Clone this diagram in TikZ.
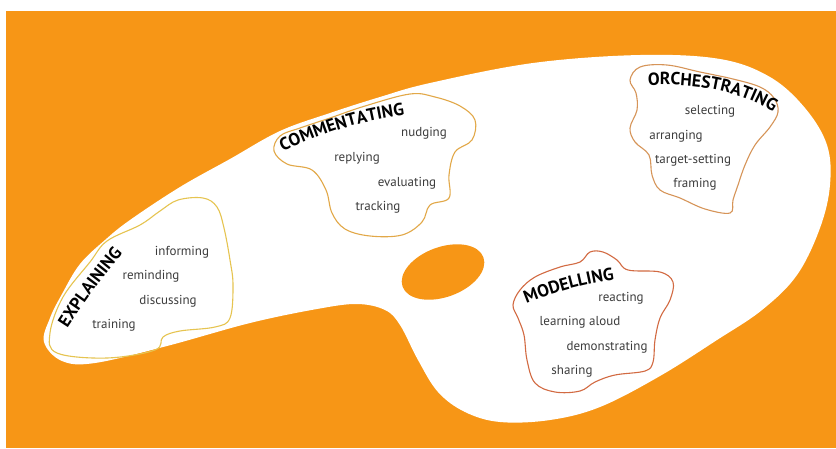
\documentclass[tikz,border=0pt]{standalone}
\usepackage{fontspec}
\setsansfont{PT Sans}
\usetikzlibrary{decorations.text}
\definecolor{paint}{RGB}{247,150,22}
\definecolor{explainline}{RGB}{230,196,80}
\definecolor{commentline}{RGB}{226,168,72}
\definecolor{orchline}{RGB}{214,148,88}
\definecolor{modelline}{RGB}{210,106,66}
\definecolor{wordgrey}{RGB}{60,60,60}
\newcommand{\headfont}{\sffamily\bfseries\fontsize{17.5}{17.5}\selectfont}
\begin{document}
\begin{tikzpicture}[
        x = 1pt,
        y = -1pt,
        word/.style = {font=\sffamily\fontsize{13}{13}\selectfont, text=wordgrey, inner sep=0pt},
        blob/.style = {line width=1.1pt},
        headline/.style = {decorate, decoration={text along path, text align=center, text={|\headfont|#1}}}
    ]
    \useasboundingbox (0,0) rectangle (836,448);
    \fill[paint] (6,11) rectangle (836,448);
    \fill[white] plot[smooth cycle, tension=.6] coordinates {
        (44,342) (50,318) (62,294) (80,264) (105,240) (130,220) (180,187) (230,159)
        (280,131) (330,113) (380,97) (430,83) (533,63) (640,55) (720,59) (770,77)
        (805,108) (827,145) (830,185) (820,228) (797,275) (762,310) (717,340) (660,376)
        (600,407) (550,420) (500,422) (465,412) (438,392) (418,360) (400,325) (385,310)
        (357,304) (317,309) (250,323) (167,346) (95,363) (62,361)};
    \fill[paint, rotate around={20:(443,272)}] (443,272) ellipse [x radius=43, y radius=25];

    \draw[blob, explainline] plot[smooth cycle, tension=.6] coordinates {
        (57,353) (50,333) (63,297) (90,262) (107,241) (140,225) (160,211) (178,200)
        (203,198) (217,207) (224,228) (230,260) (233,285) (230,318) (215,327) (180,331)
        (163,337) (155,350) (107,358)};
    \draw[blob, commentline] plot[smooth cycle, tension=.6] coordinates {
        (274,151) (280,136) (300,128) (330,118) (365,106) (410,94) (435,97) (460,106)
        (475,120) (472,140) (455,152) (449,175) (449,198) (430,205) (422,222) (402,235)
        (370,236) (345,229) (332,213) (326,190) (312,170) (287,164)};
    \draw[blob, orchline] plot[smooth cycle, tension=.6] coordinates {
        (630,80) (640,67) (667,65) (700,72) (733,79) (760,87) (774,98) (778,112)
        (770,127) (755,145) (745,165) (738,185) (733,200) (730,213) (705,209) (680,198)
        (660,190) (652,175) (649,155) (635,142) (630,128) (637,110) (636,93)};
    \draw[blob, modelline] plot[smooth cycle, tension=.6] coordinates {
        (513,305) (520,290) (535,277) (560,267) (580,262) (590,252) (603,252) (617,260)
        (628,270) (660,272) (673,282) (670,300) (660,318) (655,340) (653,362) (645,371)
        (615,375) (595,382) (580,391) (555,392) (535,383) (527,360) (524,335) (518,318)};

    \path[headline=EXPLAINING] (60,340) .. controls (80,308) and (102,276) .. (132,243);
    \node[word] (informing) at (182,252) {informing};
    \node[word] (reminding) at (151,276) {reminding};
    \node[word] (discussing) at (168,301) {discussing};
    \node[word] (training) at (114,325) {training};

    \path[headline=COMMENTATING] (272,156) .. controls (310,139) and (350,121) .. (416,114);
    \node[word] (nudging) at (424,133) {nudging};
    \node[word] (replying) at (357,158) {replying};
    \node[word] (evaluating) at (407,183) {evaluating};
    \node[word] (tracking) at (378,207) {tracking};

    \path[headline=ORCHESTRATING] (632,86) .. controls (700,81) and (750,92) .. (786,122);
    \node[word] (selecting) at (710,111) {selecting};
    \node[word] (arranging) at (676,136) {arranging};
    \node[word] (targetsetting) at (693,160) {target-setting};
    \node[word] (framing) at (695,184) {framing};

    \path[headline=MODELLING] (512,310) .. controls (541,297) and (580,283) .. (630,278);
    \node[word] (reacting) at (621,298) {reacting};
    \node[word] (learning) at (580,322) {learning aloud};
    \node[word] (demonstrating) at (607,347) {demonstrating};
    \node[word] (sharing) at (572,371) {sharing};
\end{tikzpicture}
\end{document}
